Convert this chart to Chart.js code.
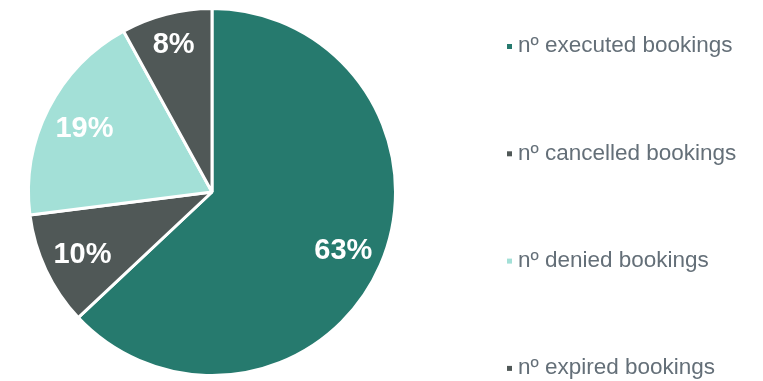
<!DOCTYPE html>
<html lang="en">

<head>
    <meta charset="UTF-8">
    <title>Bookings</title>
    <style>
        html, body { margin: 0; padding: 0; background: #fff; }
        #wrap { width: 763px; height: 381px; }
    </style>
</head>

<body>

    <div id="wrap">
        <canvas id="myChart" width="763" height="381"></canvas>
    </div>

    <script src="https://cdn.jsdelivr.net/npm/chart.js"></script>

    <script>
        const estados = [
            "nº executed bookings",
            "nº cancelled bookings",
            "nº denied bookings",
            "nº expired bookings"
        ];
        const porcentajes = [63, 10, 19, 8];
        const colores = ["#267a6e", "#505857", "#a3e0d7", "#505857"];

        // etiquetas blancas dentro de cada sector
        const etiquetasPlugin = {
            id: 'etiquetas',
            afterDatasetsDraw(chart) {
                const ctx = chart.ctx;
                const meta = chart.getDatasetMeta(0);
                ctx.save();
                ctx.font = 'bold 29px "Liberation Sans", Arial, sans-serif';
                ctx.fillStyle = '#ffffff';
                ctx.textAlign = 'center';
                ctx.textBaseline = 'middle';
                meta.data.forEach((arc, i) => {
                    const p = arc.getProps(['x', 'y', 'startAngle', 'endAngle', 'outerRadius'], true);
                    const a = (p.startAngle + p.endAngle) / 2;
                    // los sectores estrechos llevan la etiqueta más hacia fuera
                    const f = porcentajes[i] < 9 ? 0.84 : 0.78;
                    const r = p.outerRadius * f;
                    ctx.fillText(porcentajes[i] + '%', p.x + Math.cos(a) * r, p.y + Math.sin(a) * r + 2);
                });
                ctx.restore();
            }
        };

        // leyenda a la derecha, un elemento por fila
        const leyendaPlugin = {
            id: 'leyenda',
            afterDraw(chart) {
                const ctx = chart.ctx;
                ctx.save();
                ctx.font = '22.5px "Liberation Sans", Arial, sans-serif';
                ctx.textBaseline = 'middle';
                ctx.textAlign = 'left';
                estados.forEach((txt, i) => {
                    const y = 46 + i * 107.3;
                    ctx.fillStyle = colores[i];
                    ctx.fillRect(507, y - 2, 5, 5);
                    ctx.fillStyle = '#646f78';
                    ctx.fillText(txt, 518, y);
                });
                ctx.restore();
            }
        };

        const ctx = document.getElementById('myChart');

        new Chart(ctx, {
            type: 'pie',
            data: {
                labels: estados,
                datasets: [{
                    data: porcentajes,
                    backgroundColor: colores,
                    borderColor: '#ffffff',
                    borderWidth: 3
                }]
            },
            options: {
                responsive: false,
                animation: false,
                layout: {
                    padding: { left: 27, top: 7, bottom: 4, right: 366 }
                },
                plugins: {
                    legend: { display: false },
                    tooltip: { enabled: false }
                }
            },
            plugins: [etiquetasPlugin, leyendaPlugin]
        });
    </script>
</body>

</html>
